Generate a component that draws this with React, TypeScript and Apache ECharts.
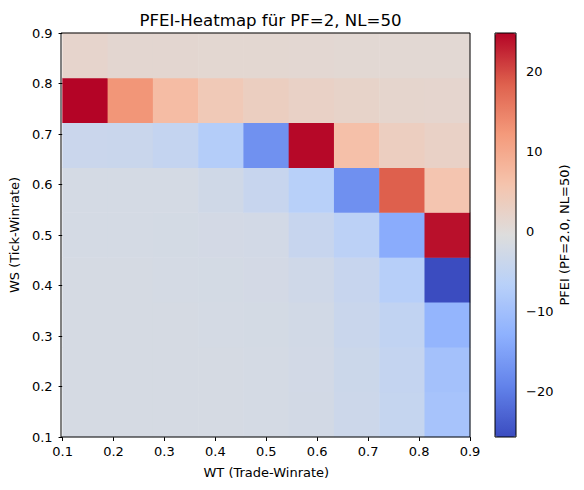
import React, { useEffect, useRef } from "react";
import * as echarts from "echarts";

// cell centres of the 9x9 grid (extent 0.1 .. 0.9 on both axes)
const wtCenters = ["0.14", "0.23", "0.32", "0.41", "0.50", "0.59", "0.68", "0.77", "0.86"];
const wsCenters = ["0.14", "0.23", "0.32", "0.41", "0.50", "0.59", "0.68", "0.77", "0.86"];

// PFEI per WS row, left (WT=0.14) to right (WT=0.86)
const pfeiWS014 = [-1.8, -1.8, -1.8, -1.9, -2.0, -2.3, -3.4, -4.6, -9.3];
const pfeiWS023 = [-1.8, -1.8, -1.9, -1.9, -2.0, -2.4, -3.5, -4.8, -9.8];
const pfeiWS032 = [-1.8, -1.9, -1.9, -2.0, -2.1, -2.6, -3.9, -5.3, -12.1];
const pfeiWS041 = [-1.9, -1.9, -2.0, -2.1, -2.2, -2.9, -4.3, -6.9, -25.75];
const pfeiWS050 = [-2.0, -2.0, -2.1, -2.2, -2.4, -4.2, -6.1, -13.6, 24.0];
const pfeiWS059 = [-2.0, -2.0, -2.0, -2.8, -4.3, -6.8, -17.5, 18.5, 5.5];
const pfeiWS068 = [-3.8, -3.9, -4.8, -7.4, -17.4, 24.5, 6.4, 3.4, 2.6];
const pfeiWS077 = [24.8, 12.6, 7.0, 4.5, 3.3, 2.6, 2.1, 1.6, 1.5];
const pfeiWS086 = [1.8, 1.2, 1.2, 1.1, 1.1, 1.0, 0.9, 0.9, 0.8];

const pfeiRows = [pfeiWS014, pfeiWS023, pfeiWS032, pfeiWS041, pfeiWS050, pfeiWS059, pfeiWS068, pfeiWS077, pfeiWS086];

const colorbarTicks = [-20, -10, 0, 10, 20];
const pfeiMin = -25.75;
const pfeiMax = 24.8;

// matplotlib "coolwarm"
const coolwarm = ["#3b4cc0", "#6282ea", "#8db0fe", "#b8d0f9", "#dddddd", "#f5c4ad", "#f49a7b", "#de604d", "#b40426"];

const FONT = "DejaVu Sans";

const App = () => {
  const chartRef = useRef<HTMLDivElement>(null);

  useEffect(() => {
    if (!chartRef.current) return;
    const chart = echarts.init(chartRef.current, null, { renderer: "svg" });

    const data: number[][] = [];
    pfeiRows.forEach((row, yi) => row.forEach((v, xi) => data.push([xi, yi, v])));

    const tickStyle = { show: true, length: 4, inside: false, lineStyle: { color: "#000", width: 1 } };
    const labelStyle = { color: "#000", fontSize: 13, fontFamily: FONT };

    chart.setOption({
      animation: false,
      backgroundColor: "#fff",
      textStyle: { fontFamily: FONT },
      title: {
        text: "PFEI-Heatmap für PF=2, NL=50",
        left: 265.5,
        textAlign: "center",
        top: 7,
        textStyle: { color: "#000", fontSize: 16.6, fontWeight: "normal", fontFamily: FONT },
      },
      grid: [
        { left: 61, top: 33, width: 409, height: 404, containLabel: false },
        { left: 495, top: 33, width: 21, height: 404, containLabel: false },
      ],
      xAxis: [
        { type: "category", gridIndex: 0, data: wtCenters, show: false },
        {
          type: "value",
          gridIndex: 0,
          position: "bottom",
          min: 0.1,
          max: 0.9,
          interval: 0.1,
          axisLine: { show: false },
          axisTick: tickStyle,
          axisLabel: { ...labelStyle, margin: 8, formatter: (v: number) => v.toFixed(1) },
          splitLine: { show: false },
          name: "WT (Trade-Winrate)",
          nameLocation: "middle",
          nameGap: 29,
          nameTextStyle: { color: "#000", fontSize: 13, fontFamily: FONT },
        },
        { type: "value", gridIndex: 1, min: 0, max: 1, show: false },
      ],
      yAxis: [
        { type: "category", gridIndex: 0, data: wsCenters, show: false },
        {
          type: "value",
          gridIndex: 0,
          position: "left",
          min: 0.1,
          max: 0.9,
          interval: 0.1,
          axisLine: { show: false },
          axisTick: tickStyle,
          axisLabel: { ...labelStyle, margin: 10, formatter: (v: number) => v.toFixed(1) },
          splitLine: { show: false },
          name: "WS (Tick-Winrate)",
          nameLocation: "middle",
          nameRotate: 90,
          nameGap: 35,
          nameTextStyle: { color: "#000", fontSize: 13, fontFamily: FONT },
        },
        {
          type: "value",
          gridIndex: 1,
          position: "right",
          min: pfeiMin,
          max: pfeiMax,
          axisLine: { show: false },
          axisTick: { ...tickStyle, customValues: colorbarTicks },
          axisLabel: {
            ...labelStyle,
            margin: 10,
            customValues: colorbarTicks,
            formatter: (v: number) => (v < 0 ? "\u2212" + Math.abs(v) : String(v)),
          },
          splitLine: { show: false },
          name: "PFEI (PF=2.0, NL=50)",
          nameLocation: "middle",
          nameRotate: 90,
          nameGap: 42,
          nameTextStyle: { color: "#000", fontSize: 13, fontFamily: FONT },
        },
      ],
      visualMap: {
        type: "continuous",
        seriesIndex: 0,
        dimension: 2,
        min: pfeiMin,
        max: pfeiMax,
        calculable: false,
        hoverLink: false,
        orient: "vertical",
        left: 495,
        top: 33,
        itemWidth: 21,
        itemHeight: 404,
        padding: 0,
        inRange: { color: coolwarm },
      },
      graphic: [
        {
          type: "rect",
          z: 100,
          silent: true,
          shape: { x: 61, y: 33, width: 409, height: 404 },
          style: { fill: "none", stroke: "#000", lineWidth: 1 },
        },
        {
          type: "rect",
          z: 100,
          silent: true,
          shape: { x: 495, y: 33, width: 21, height: 404 },
          style: { fill: "none", stroke: "#000", lineWidth: 1 },
        },
      ],
      series: [
        {
          type: "heatmap",
          xAxisIndex: 0,
          yAxisIndex: 0,
          data,
          itemStyle: { borderWidth: 0 },
          emphasis: { disabled: true },
        },
      ],
    });

    return () => {
      chart.dispose();
    };
  }, []);

  return (
    <div
      ref={chartRef}
      style={{ position: "absolute", left: 0, top: 0, width: 584, height: 490 }}
    />
  );
};

export default App;
